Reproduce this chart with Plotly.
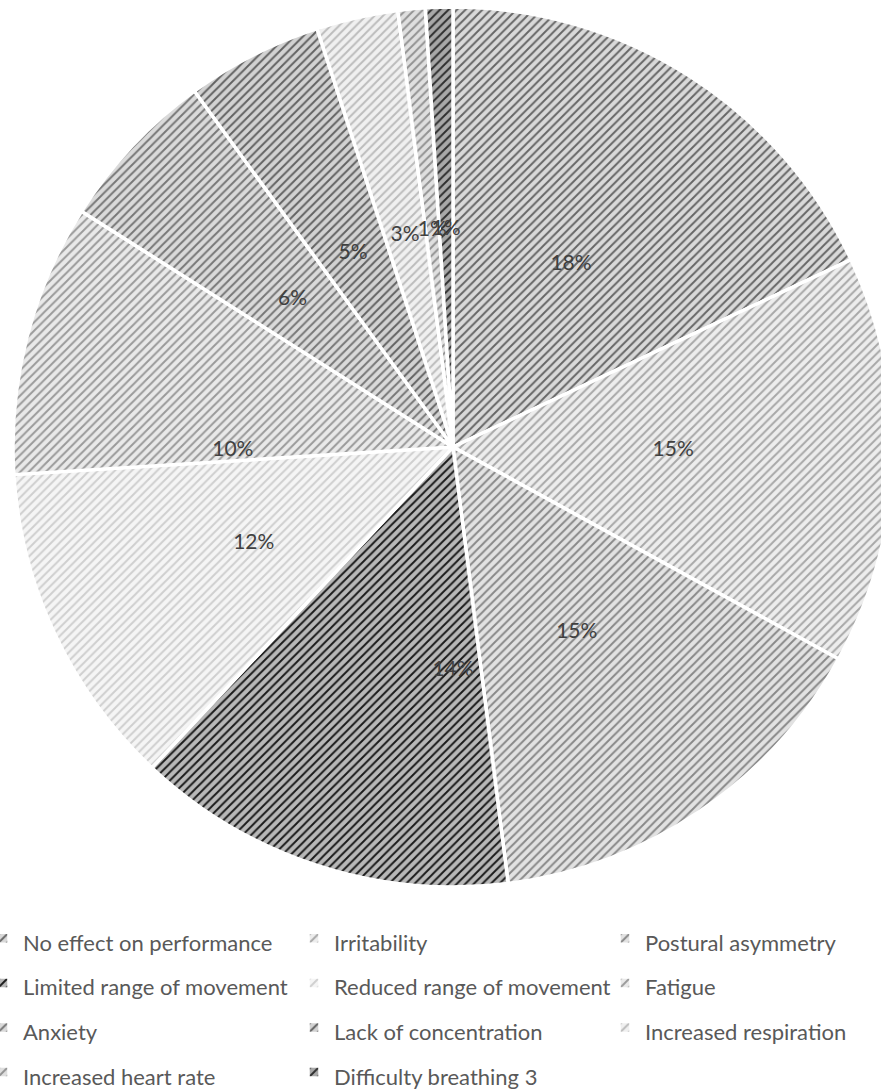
import plotly.graph_objects as go

categories = [
    "No effect on performance", "Irritability", "Postural asymmetry",
    "Limited range of movement", "Reduced range of movement", "Fatigue",
    "Anxiety", "Lack of concentration", "Increased respiration",
    "Increased heart rate", "Difficulty breathing 3",
]
values = [18, 15, 15, 14, 12, 10, 6, 5, 3, 1, 1]

line_colors = ["#666666", "#a8a8a8", "#888888", "#1a1a1a", "#cfcfcf", "#9a9a9a",
               "#777777", "#626262", "#bcbcbc", "#929292", "#2e2e2e"]
fill_colors = ["#d9d9d9", "#ededed", "#e2e2e2", "#b8b8b8", "#f5f5f5", "#e9e9e9",
               "#dadada", "#d2d2d2", "#f0f0f0", "#dfdfdf", "#a8a8a8"]

W, H = 960, 1110
T = 7
R = 440          # pie radius in px
CX, CY = 453, 447

legend_names = ['<span style="font-size:22px">%s</span>' % c for c in categories]

fig = go.Figure()
fig.add_trace(go.Pie(
    labels=legend_names,
    values=values,
    sort=False,
    direction="clockwise",
    rotation=0,
    textinfo="none",
    hoverinfo="skip",
    domain=dict(x=[(CX - R) / W, (CX + R) / W], y=[0, 1]),
    marker=dict(
        colors=fill_colors,
        line=dict(color="white", width=3.5),
        pattern=dict(shape="/", fgcolor=line_colors, bgcolor=fill_colors,
                     size=6, solidity=0.32, fillmode="replace"),
    ),
))

# label ring: thin donut so inside labels sit at the mid radius of the slices
R2 = 227
fig.add_trace(go.Pie(
    labels=legend_names,
    values=values,
    sort=False,
    direction="clockwise",
    rotation=0,
    hole=0.94,
    showlegend=False,
    hoverinfo="skip",
    texttemplate="%{percent:.0%}",
    textposition="inside",
    insidetextorientation="horizontal",
    textfont=dict(family="Lato", size=21, color="#404040"),
    domain=dict(x=[(CX - R2) / W, (CX + R2) / W],
                y=[0.5 - R2 / (2 * R), 0.5 + R2 / (2 * R)]),
    marker=dict(colors=["rgba(0,0,0,0)"] * len(values), line=dict(width=0)),
))

fig.update_layout(
    width=W, height=H,
    margin=dict(l=0, r=0, t=T, b=H - T - 2 * R, autoexpand=False),
    paper_bgcolor="white",
    plot_bgcolor="white",
    font=dict(family="Lato", color="#595959"),
    uniformtext=dict(minsize=21, mode="show"),
    legend=dict(
        orientation="h",
        x=-17 / W, xanchor="left",
        y=1 - (911 - T) / (2 * R), yanchor="top",
        font=dict(family="Lato", size=32, color="#595959"),
        entrywidth=266, entrywidthmode="pixels",
        bgcolor="rgba(0,0,0,0)",
        traceorder="normal",
    ),
)

fig.write_html("out.html",
               post_script="document.body.style.margin='0';document.body.style.overflow='hidden';")
